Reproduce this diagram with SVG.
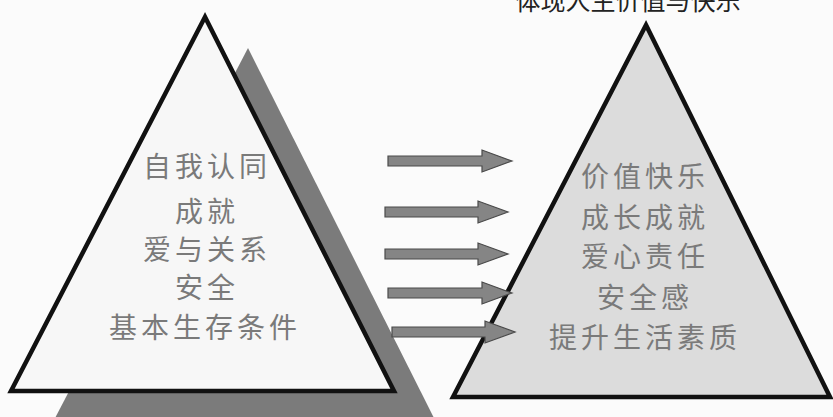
<svg xmlns="http://www.w3.org/2000/svg" width="833" height="417" viewBox="0 0 833 417">
<defs>
<style>
.tri{stroke:#111;stroke-width:4.5;stroke-linejoin:miter}
.lbl{font-family:"Noto Sans CJK SC","Noto Sans",sans-serif;font-size:28px;fill:#7a7a7a;text-anchor:middle;letter-spacing:4px}
.arrow{fill:#858585;stroke:#4a4a4a;stroke-width:1.2}
.top{font-family:"Noto Sans CJK SC","Noto Sans",sans-serif;font-size:25px;fill:#222;text-anchor:middle}
</style>
</defs>
<rect width="833" height="417" fill="#fbfbfb"/>
<text class="top" x="628" y="10">体现人生价值与快乐</text>
<g id="shadow">
<polygon points="248,48 53,422 436,422" fill="#7b7b7b"/>
</g>
<g id="left-pyramid">
<polygon class="tri" points="205,17 11,391 394,391" fill="#f7f7f7"/>
<text class="lbl" x="207" y="177">自我认同</text>
<text class="lbl" x="207" y="222">成就</text>
<text class="lbl" x="207" y="260">爱与关系</text>
<text class="lbl" x="207" y="298">安全</text>
<text class="lbl" x="205" y="338">基本生存条件</text>
</g>
<g id="right-pyramid">
<polygon class="tri" points="646,25 453,397 830,397" fill="#dcdcdc"/>
<text class="lbl" x="645" y="187">价值快乐</text>
<text class="lbl" x="645" y="228">成长成就</text>
<text class="lbl" x="645" y="267">爱心责任</text>
<text class="lbl" x="645" y="308">安全感</text>
<text class="lbl" x="645" y="348">提升生活素质</text>
</g>
<g id="connectors">
<path class="arrow" d="M388,156 H482 V150 L512,161 L482,172 V166 H388 Z"/>
<path class="arrow" d="M385,207 H478 V201 L508,212 L478,223 V217 H385 Z"/>
<path class="arrow" d="M385,249 H478 V243 L508,254 L478,265 V259 H385 Z"/>
<path class="arrow" d="M388,288 H482 V282 L512,293 L482,304 V298 H388 Z"/>
<path class="arrow" d="M392,327 H485 V321 L515,332 L485,343 V337 H392 Z"/>
</g>
</svg>
